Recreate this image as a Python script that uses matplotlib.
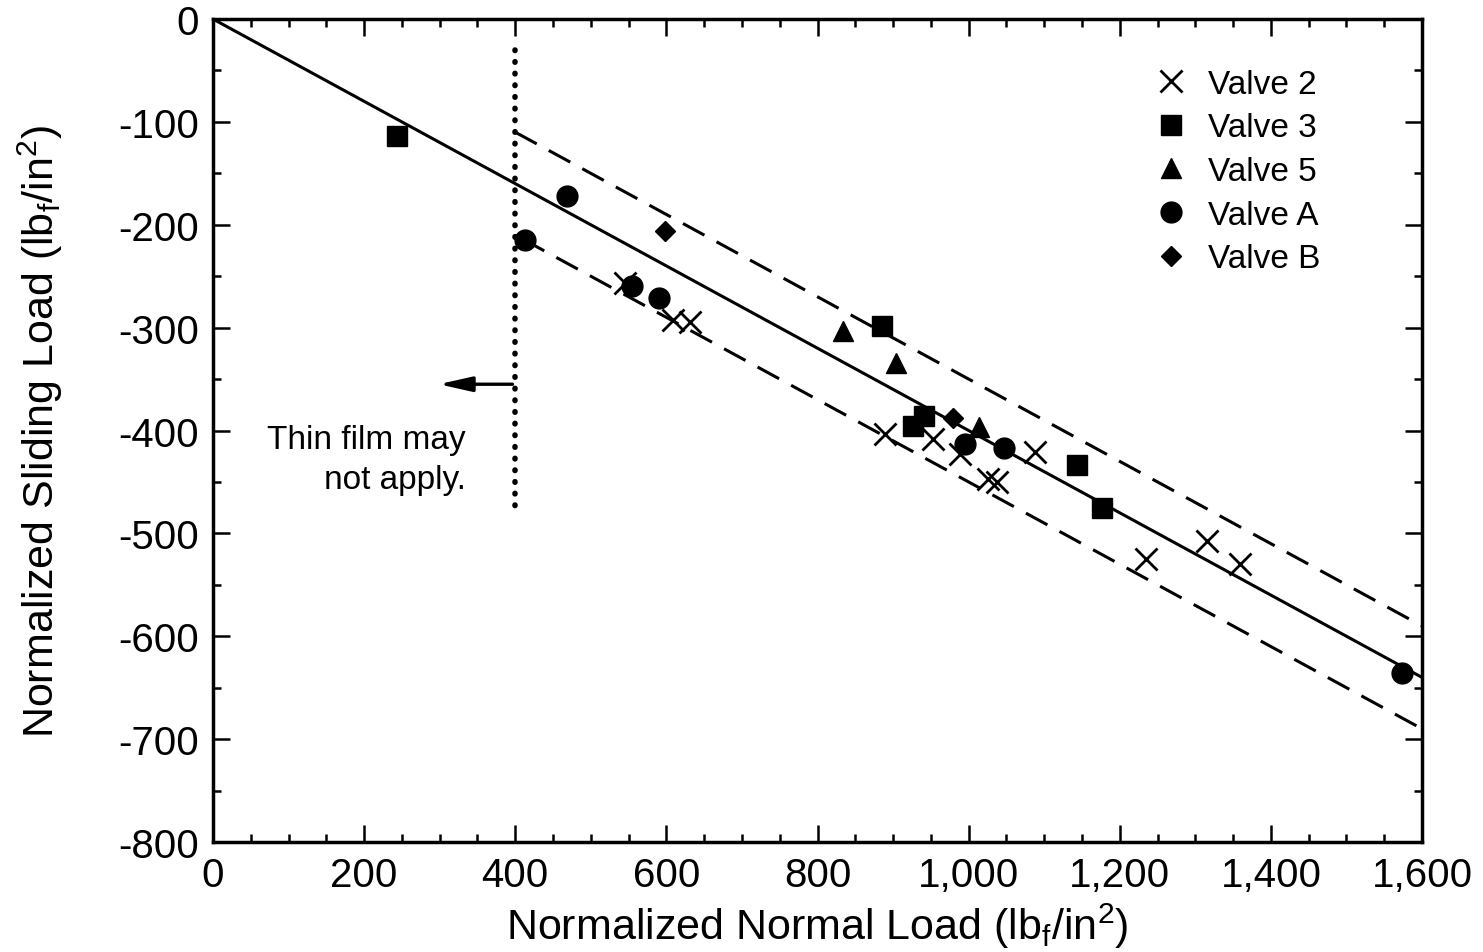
import numpy as np
import matplotlib
matplotlib.use('Agg')
import matplotlib.pyplot as plt
from matplotlib.ticker import MultipleLocator, FuncFormatter

plt.rcParams['font.family'] = ['Liberation Sans', 'DejaVu Sans']
plt.rcParams['mathtext.fontset'] = 'custom'
plt.rcParams['mathtext.rm'] = 'Liberation Sans'
plt.rcParams['mathtext.it'] = 'Liberation Sans'

# data (normal load, sliding load)
valve2_x = [545, 609, 631, 889, 953, 989, 1026, 1037, 1088, 1235, 1315, 1359]
valve2_y = [-257, -293, -295, -403, -408, -423, -447, -450, -421, -525, -507, -530]
valve3_x = [243, 885, 941, 926, 1143, 1177]
valve3_y = [-114, -298, -386, -396, -434, -475]
valve5_x = [834, 904, 1014]
valve5_y = [-303, -334, -397]
valveA_x = [468, 413, 554, 590, 995, 1047, 1574]
valveA_y = [-172, -215, -260, -271, -413, -417, -636]
valveB_x = [598, 979]
valveB_y = [-206, -388]

fit_slope = -0.4
band = 50

fig = plt.figure(figsize=(14.83, 9.53), dpi=100)
ax = fig.add_axes([0.1436, 0.1154, 0.8153, 0.8636])

# fit line and band
xf = np.array([0, 1600])
ax.plot(xf, fit_slope * xf, color='black', lw=2.2)
xb = np.array([400, 1600])
ax.plot(xb, fit_slope * xb + band, color='black', lw=2.2, dashes=(8, 4.5))
xb2 = np.array([410, 1600])
ax.plot(xb2, fit_slope * xb2 - band, color='black', lw=2.2, dashes=(8, 4.5))

# thin film limit
ax.plot([400, 400], [-30, -480], color='black', lw=4, linestyle=(0, (0.1, 2.0)),
        dash_capstyle='round')
ax.annotate('', xy=(295, -355), xytext=(400, -355),
            arrowprops=dict(arrowstyle='-|>,head_length=2.0,head_width=0.45',
                            color='black', lw=2.4))
ax.text(335, -428, 'Thin film may\nnot apply.', ha='right', va='center',
        fontsize=24, linespacing=1.35)

ax.plot(valve2_x, valve2_y, 'x', color='black', ms=16, mew=2, label='Valve 2')
ax.plot(valve3_x, valve3_y, 's', color='black', ms=14, label='Valve 3')
ax.plot(valve5_x, valve5_y, '^', color='black', ms=15, label='Valve 5')
ax.plot(valveA_x, valveA_y, 'o', color='black', ms=15, label='Valve A')
ax.plot(valveB_x, valveB_y, 'D', color='black', ms=10, label='Valve B')

ax.set_xlim(0, 1600)
ax.set_ylim(-800, 0)
ax.xaxis.set_major_locator(MultipleLocator(200))
ax.xaxis.set_minor_locator(MultipleLocator(50))
ax.yaxis.set_major_locator(MultipleLocator(100))
ax.yaxis.set_minor_locator(MultipleLocator(50))
ax.xaxis.set_major_formatter(FuncFormatter(lambda v, p: '{:,.0f}'.format(v)))
ax.yaxis.set_major_formatter(FuncFormatter(lambda v, p: '{:.0f}'.format(v)))
ax.tick_params(which='both', direction='in', top=True, right=True,
               labelsize=29, width=1.8, pad=10)
ax.tick_params(which='major', length=12)
ax.tick_params(which='minor', length=6)
for s in ax.spines.values():
    s.set_linewidth(2.5)

ax.set_xlabel('Normalized Normal Load (lb$_f$/in$^2$)', fontsize=31, labelpad=5)
ax.set_ylabel('Normalized Sliding Load (lb$_f$/in$^2$)', fontsize=31, labelpad=38)

ax.legend(loc='upper right', bbox_to_anchor=(0.935, 0.968), frameon=False,
          fontsize=24, handletextpad=0.6, labelspacing=0.38, borderpad=0.2,
          handlelength=1.0)

fig.savefig('out.png', dpi=100)
